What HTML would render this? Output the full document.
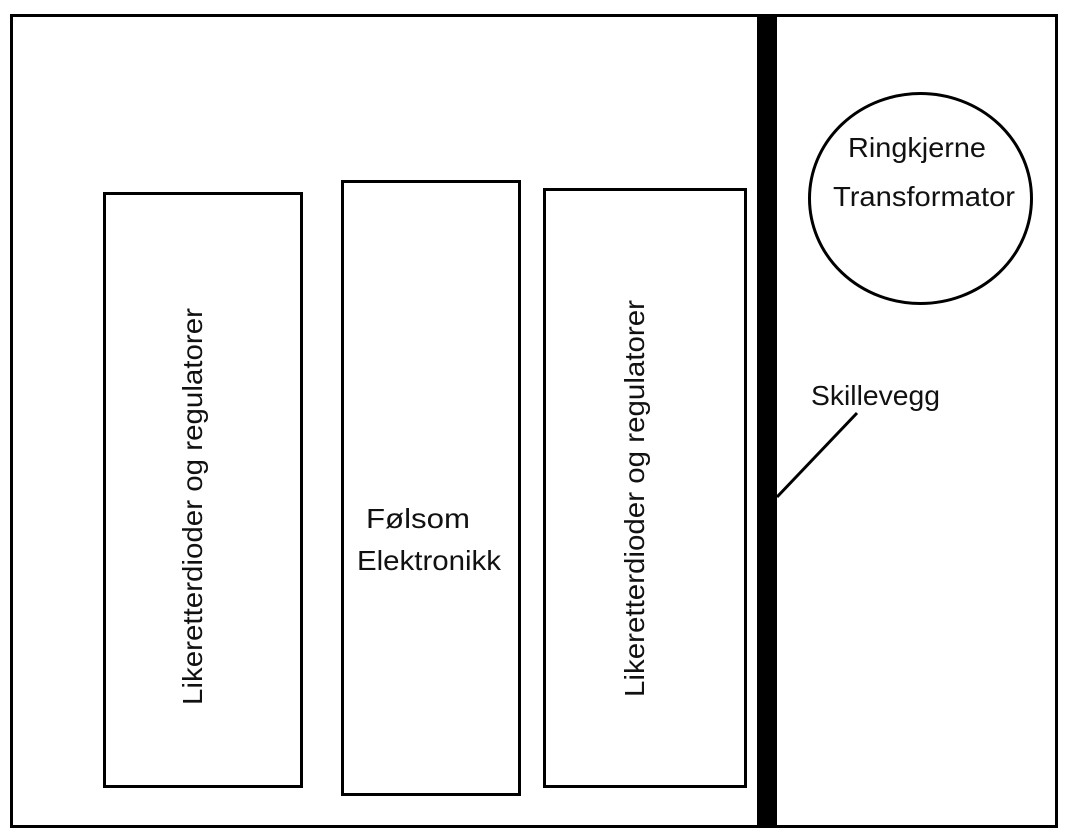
<!DOCTYPE html>
<html><head><meta charset="utf-8"><style>
html,body{margin:0;padding:0;background:#fff;}
svg{display:block;}
text{font-family:"Liberation Sans","DejaVu Sans",sans-serif;fill:#111;}
</style></head><body>
<svg width="1073" height="840" viewBox="0 0 1073 840" xmlns="http://www.w3.org/2000/svg">
<rect x="0" y="0" width="1073" height="840" fill="#fff"/>
<rect x="11.5" y="15.5" width="1045" height="811" fill="none" stroke="#000" stroke-width="3"/>
<rect x="757" y="14" width="20" height="814" fill="#000"/>
<rect x="104.5" y="193.5" width="197" height="593" fill="none" stroke="#000" stroke-width="3"/>
<rect x="342.5" y="181.5" width="177" height="613" fill="none" stroke="#000" stroke-width="3"/>
<rect x="544.5" y="189.5" width="201" height="597" fill="none" stroke="#000" stroke-width="3"/>
<ellipse cx="920.5" cy="198.5" rx="111" ry="105" fill="none" stroke="#000" stroke-width="3"/>
<line x1="777" y1="497" x2="857" y2="413" stroke="#000" stroke-width="3"/>
<text x="848" y="157" font-size="28" textLength="138" lengthAdjust="spacingAndGlyphs">Ringkjerne</text>
<text x="833" y="206" font-size="28" textLength="182" lengthAdjust="spacingAndGlyphs">Transformator</text>
<text x="811" y="405" font-size="28" textLength="129" lengthAdjust="spacingAndGlyphs">Skillevegg</text>
<text x="366" y="528" font-size="28" textLength="104" lengthAdjust="spacingAndGlyphs">Følsom</text>
<text x="357" y="570" font-size="28" textLength="144" lengthAdjust="spacingAndGlyphs">Elektronikk</text>
<text transform="translate(202,705) rotate(-90)" font-size="28" textLength="397" lengthAdjust="spacingAndGlyphs">Likeretterdioder og regulatorer</text>
<text transform="translate(644,697) rotate(-90)" font-size="28" textLength="397" lengthAdjust="spacingAndGlyphs">Likeretterdioder og regulatorer</text>
</svg>
</body></html>
